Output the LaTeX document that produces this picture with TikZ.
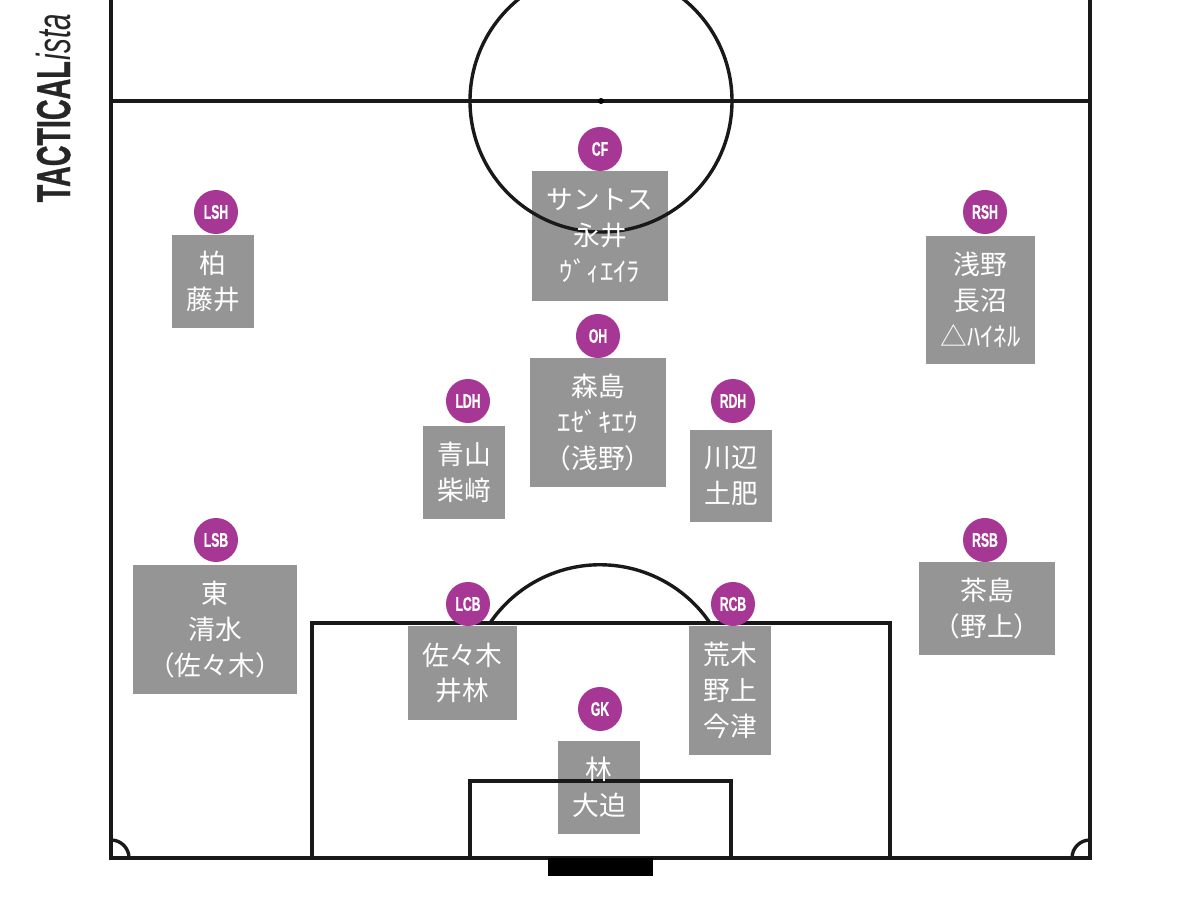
\documentclass[tikz,border=0pt]{standalone}
\usepackage{fontspec}
\usepackage{xcolor}
\usepackage{tikz}
\usetikzlibrary{positioning}
\setmainfont{Noto Sans CJK JP}
\newfontfamily\badgefont[FakeStretch=0.62,FakeBold=0.6]{Liberation Sans}
\newfontfamily\logofont[FakeBold=1]{Liberation Sans}
\newfontfamily\istafont{Liberation Sans}
\definecolor{boxgray}{HTML}{959595}
\definecolor{badgepurple}{HTML}{A63795}
\tikzset{
    pitchline/.style={line width=0.034cm, black!90},
    playerbox/.style={fill=boxgray, draw=none, inner sep=0pt},
    playertext/.style={text=white, align=center, inner sep=0pt, font=\fontsize{7.6}{10.2}\selectfont},
    badge/.style={circle, fill=badgepurple, minimum size=0.44cm, inner sep=0pt, text=white, font=\badgefont\bfseries\fontsize{5.6}{6}\selectfont},
    logotext/.style={rotate=90, anchor=base west, inner sep=0pt, text=black!85, font=\fontsize{13.5}{14}\selectfont}
}

\begin{document}
\begin{tikzpicture}[x=0.01cm, y=0.01cm]
    \clip (0,0) rectangle (1200,900);
    \fill[white] (0,0) rectangle (1200,900);

    % Player boxes
    \node[playerbox, minimum width=1.36cm, minimum height=1.29cm] (cfbox) at (600,664) {};
    \node[playerbox, minimum width=0.82cm, minimum height=0.93cm] (lshbox) at (213,618.5) {};
    \node[playerbox, minimum width=1.09cm, minimum height=1.28cm] (rshbox) at (980.5,600) {};
    \node[playerbox, minimum width=1.36cm, minimum height=1.29cm] (ohbox) at (598,477.5) {};
    \node[playerbox, minimum width=0.82cm, minimum height=0.93cm] (ldhbox) at (464,427.5) {};
    \node[playerbox, minimum width=0.82cm, minimum height=0.92cm] (rdhbox) at (731,424) {};
    \node[playerbox, minimum width=1.64cm, minimum height=1.29cm] (lsbbox) at (215,270.5) {};
    \node[playerbox, minimum width=1.36cm, minimum height=0.93cm] (rsbbox) at (987,291.5) {};
    \node[playerbox, minimum width=1.09cm, minimum height=0.94cm] (lcbbox) at (462.5,227) {};
    \node[playerbox, minimum width=0.82cm, minimum height=1.29cm] (rcbbox) at (730,209.5) {};
    \node[playerbox, minimum width=0.82cm, minimum height=0.93cm] (gkbox) at (599,112.5) {};

    % Pitch
    \draw[pitchline] (111,920) -- (111,42) -- (1090,42) -- (1090,920);
    \draw[pitchline] (111,799) -- (1090,799);
    \draw[pitchline] (601,799) circle (131);
    \fill[black] (601,799) circle (3);
    \draw[pitchline] (312,42) -- (312,277) -- (890,277) -- (890,42);
    \draw[pitchline] (470,42) -- (470,119) -- (731,119) -- (731,42);
    \draw[pitchline] (490,277) arc[start angle=145.8, end angle=34.2, radius=133];
    \draw[pitchline] (111,60) arc[start angle=90, end angle=0, radius=18];
    \draw[pitchline] (1072,42) arc[start angle=180, end angle=90, radius=18];
    \fill[black] (548,42) rectangle (653,24);

    % Names
    \node[playertext] (cftext) at (cfbox) {サントス\\永井\\ｳﾞｨｴｲﾗ};
    \node[playertext] (lshtext) at (lshbox) {柏\\藤井};
    \node[playertext] (rshtext) at (rshbox) {浅野\\長沼\\△ﾊｲﾈﾙ};
    \node[playertext] (ohtext) at (ohbox) {森島\\ｴｾﾞｷｴｳ\\（浅野）};
    \node[playertext] (ldhtext) at (ldhbox) {青山\\柴﨑};
    \node[playertext] (rdhtext) at (rdhbox) {川辺\\土肥};
    \node[playertext] (lsbtext) at (lsbbox) {東\\清水\\（佐々木）};
    \node[playertext] (rsbtext) at (rsbbox) {茶島\\（野上）};
    \node[playertext] (lcbtext) at (lcbbox) {佐々木\\井林};
    \node[playertext] (rcbtext) at (rcbbox) {荒木\\野上\\今津};
    \node[playertext] (gktext) at (gkbox) {林\\大迫};

    % Position badges
    \node[badge] (cf) at (600,751) {CF};
    \node[badge] (lsh) at (216,688) {LSH};
    \node[badge] (rsh) at (985,688) {RSH};
    \node[badge] (oh) at (598,564) {OH};
    \node[badge] (ldh) at (468,499) {LDH};
    \node[badge] (rdh) at (733,499) {RDH};
    \node[badge] (lsb) at (216,360) {LSB};
    \node[badge] (rsb) at (985,360) {RSB};
    \node[badge] (lcb) at (468,296) {LCB};
    \node[badge] (rcb) at (733,296) {RCB};
    \node[badge] (gk) at (600,191) {GK};

    % Logo
    \node[logotext] (logo) at (70,697) {\resizebox{1.41cm}{\height}{\logofont\bfseries TACTICAL}};
    \node[logotext] (ista) at (70,839) {\resizebox{0.46cm}{\height}{\istafont\itshape ista}};
\end{tikzpicture}
\end{document}
